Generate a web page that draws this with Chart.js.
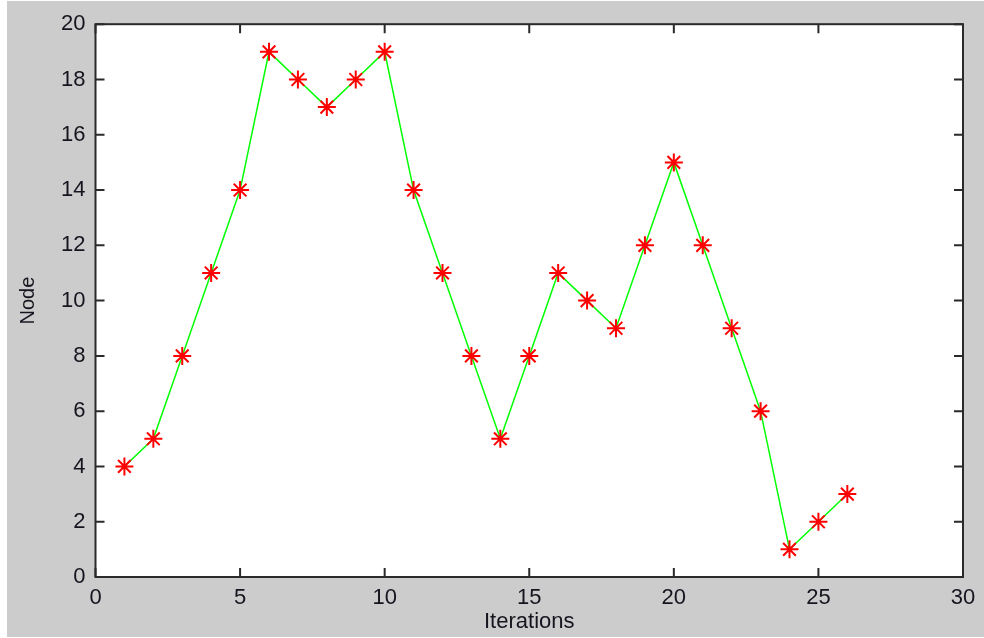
<!DOCTYPE html>
<html>
<head>
<meta charset="utf-8">
<script src="https://cdn.jsdelivr.net/npm/chart.js@4"></script>
<style>
  html, body { margin: 0; padding: 0; background: #ffffff; }
  #wrap { position: absolute; left: 7px; top: 1px; width: 977px; height: 636px; }
</style>
</head>
<body>
<div id="wrap"><canvas id="node-chart"></canvas></div>
<script>
// iteration number and node visited
const iterations = [1, 2, 3, 4, 5, 6, 7, 8, 9, 10, 11, 12, 13, 14, 15, 16, 17, 18, 19, 20, 21, 22, 23, 24, 25, 26]
const nodes = [4, 5, 8, 11, 14, 19, 18, 17, 18, 19, 14, 11, 8, 5, 8, 11, 10, 9, 12, 15, 12, 9, 6, 1, 2, 3]
const xTicks = [0, 5, 10, 15, 20, 25, 30]
const yTicks = [0, 2, 4, 6, 8, 10, 12, 14, 16, 18, 20]

const textColor = '#15151f'

// matlab style: grey figure, boxed axes, ticks pointing inward on all sides
const matlabFrame = {
  id: 'matlabFrame',
  beforeDraw(chart) {
    const ctx = chart.ctx
    ctx.save()
    ctx.fillStyle = '#cccccc'
    ctx.fillRect(0, 0, chart.width, chart.height)
    const a = chart.chartArea
    ctx.fillStyle = '#ffffff'
    ctx.fillRect(a.left, a.top, a.right - a.left, a.bottom - a.top)
    ctx.restore()
  },
  afterDraw(chart) {
    const ctx = chart.ctx
    const a = chart.chartArea
    const xs = chart.scales.x
    const ys = chart.scales.y
    const len = 9
    ctx.save()
    ctx.strokeStyle = '#2a2a2a'
    ctx.lineWidth = 2
    ctx.beginPath()
    xs.ticks.forEach(t => {
      const px = xs.getPixelForValue(t.value)
      ctx.moveTo(px, a.bottom); ctx.lineTo(px, a.bottom - len)
      ctx.moveTo(px, a.top); ctx.lineTo(px, a.top + len)
    })
    ys.ticks.forEach(t => {
      const py = ys.getPixelForValue(t.value)
      ctx.moveTo(a.left, py); ctx.lineTo(a.left + len, py)
      ctx.moveTo(a.right, py); ctx.lineTo(a.right - len, py)
    })
    ctx.stroke()
    ctx.strokeRect(a.left, a.top, a.right - a.left, a.bottom - a.top)
    ctx.restore()
  }
}

new Chart(document.getElementById('node-chart'), {
  type: 'line',
  data: {
    datasets: [{
      data: iterations.map((it, i) => ({ x: it, y: nodes[i] })),
      borderColor: '#00ff00',
      borderWidth: 1.5,
      fill: false,
      tension: 0,
      pointStyle: 'star',
      pointRadius: 9,
      pointBorderWidth: 2,
      pointBorderColor: '#ff0000',
      pointBackgroundColor: '#ff0000'
    }]
  },
  options: {
    responsive: true,
    maintainAspectRatio: false,
    animation: false,
    layout: {
      padding: { left: 0, right: 21, top: 22, bottom: 0 }
    },
    plugins: {
      legend: { display: false },
      tooltip: { enabled: false }
    },
    scales: {
      x: {
        type: 'linear',
        min: 0,
        max: 30,
        afterBuildTicks: s => { s.ticks = xTicks.map(v => ({ value: v })) },
        afterFit: s => { s.height = 60 },
        grid: { display: false, drawTicks: false },
        border: { display: false },
        ticks: {
          padding: 8,
          maxRotation: 0,
          color: textColor,
          font: { family: 'Liberation Sans, Arial, sans-serif', size: 22 }
        },
        title: {
          display: true,
          text: 'Iterations',
          color: textColor,
          padding: { top: 0, bottom: 2 },
          font: { family: 'Liberation Sans, Arial, sans-serif', size: 22 }
        }
      },
      y: {
        min: 0,
        max: 20,
        afterBuildTicks: s => { s.ticks = yTicks.map(v => ({ value: v })) },
        afterFit: s => { s.width = 88.5 },
        grid: { display: false, drawTicks: false },
        border: { display: false },
        ticks: {
          padding: 10,
          color: textColor,
          font: { family: 'Liberation Sans, Arial, sans-serif', size: 22 }
        },
        title: {
          display: true,
          text: 'Node',
          color: textColor,
          padding: { top: 9, bottom: 0 },
          font: { family: 'Liberation Sans, Arial, sans-serif', size: 20 }
        }
      }
    }
  },
  plugins: [matlabFrame]
})
</script>
</body>
</html>
